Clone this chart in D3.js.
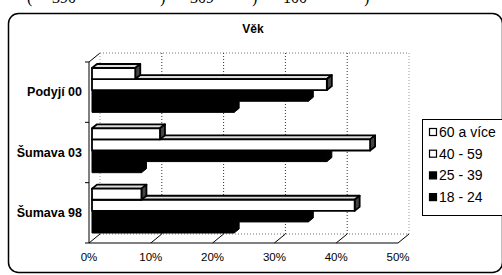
<!DOCTYPE html>
<html lang="cs">
<head>
<meta charset="UTF-8">
<title>Věk</title>
<script src="https://d3js.org/d3.v7.min.js"></script>
<style>
  body { margin: 0; background: #fff; }
  svg { display: block; font-family: "Liberation Sans", Arial, sans-serif; }
</style>
</head>
<body>
<svg id="chart" width="502" height="275"></svg>
<script>
// data
var categories = ["Podyjí 00", "Šumava 03", "Šumava 98"];
var series = ["60 a více", "40 - 59", "25 - 39", "18 - 24"];
var seriesFill = ["#fff", "#fff", "#000", "#000"];
var values = {
  "60 a více": [7, 11, 8],
  "40 - 59":   [38, 45, 42.5],
  "25 - 39":   [35, 38, 35],
  "18 - 24":   [23, 8, 23]
};
var ticks = [0, 10, 20, 30, 40, 50];
var headerBits = [["(", 27], ["390", 52], [")", 160], ["309", 190], [")", 252], ["100", 283], [")", 364]];

var svg = d3.select("#chart");

// clipped text line from the page above the chart
svg.append("g").selectAll("text")
  .data(headerBits).enter().append("text")
  .attr("x", d => d[1]).attr("y", 3)
  .style("font-family", "'Liberation Serif', serif")
  .style("font-size", "16px")
  .text(d => d[0]);

// chart frame
svg.append("rect")
  .attr("x", 8.5).attr("y", 13.5).attr("width", 494).attr("height", 259)
  .attr("rx", 10).attr("fill", "none").attr("stroke", "#000").attr("stroke-width", 1.5);

svg.append("text")
  .attr("x", 253).attr("y", 33)
  .attr("text-anchor", "middle")
  .style("font-weight", "bold").style("font-size", "12px")
  .text("Věk");

var x = d3.scaleLinear().domain([0, 50]).range([89, 398]);
var y = d3.scaleBand().domain(categories).range([62, 243]);
var inner = d3.scaleBand().domain(series).range([0, y.bandwidth()]).paddingOuter(0.72);

var DX = 11, DY = -9;     // depth of the back wall
var bdx = 5, bdy = -4;    // depth of each bar
var offX = 3, offY = -2;  // bars sit a bit behind the front plane

var yTop = y.range()[0], yBot = y.range()[1];

// back wall and gridlines
var wall = svg.append("g").attr("stroke", "#777").attr("stroke-dasharray", "1,2").attr("fill", "none");
wall.append("line")
  .attr("x1", x(0) + DX).attr("x2", x(50) + DX)
  .attr("y1", yTop + DY).attr("y2", yTop + DY);
wall.append("line")
  .attr("x1", x(0) + DX).attr("x2", x(50) + DX)
  .attr("y1", yBot + DY).attr("y2", yBot + DY);
wall.selectAll("line.grid")
  .data(ticks.slice(1)).enter().append("line")
  .attr("class", "grid")
  .attr("x1", d => x(d) + DX).attr("x2", d => x(d) + DX)
  .attr("y1", yTop + DY).attr("y2", yBot + DY)
  .attr("stroke", d => d === 50 ? "#999" : "#333");

// floor ticks (diagonals) and axis lines
var axisG = svg.append("g").attr("stroke", "#000").attr("stroke-width", 1);
axisG.selectAll("line.diag")
  .data(ticks).enter().append("line")
  .attr("class", "diag")
  .attr("x1", d => x(d)).attr("y1", yBot)
  .attr("x2", d => x(d) + DX).attr("y2", yBot + DY);
axisG.append("line")
  .attr("x1", x(0)).attr("x2", x(0) + DX)
  .attr("y1", yTop).attr("y2", yTop + DY);
axisG.append("line")
  .attr("x1", x(0) + DX).attr("x2", x(0) + DX)
  .attr("y1", yTop + DY).attr("y2", yBot + DY)
  .attr("stroke", "#999").attr("stroke-dasharray", "1,2");

// bars, drawn from the lowest series up so upper bars hide lower top faces
var bars = svg.append("g");
categories.forEach(function(cat, ci) {
  series.slice().reverse().forEach(function(s) {
    var si = series.indexOf(s);
    var v = values[s][ci];
    var x0 = x(0) + offX, x1 = x(v) + offX;
    var y0 = y(cat) + inner(s) + offY, h = inner.bandwidth();
    var dark = seriesFill[si] === "#000";
    var g = bars.append("g")
      .attr("stroke", "#000").attr("stroke-width", dark ? 1 : 1.8)
      .attr("stroke-linejoin", "round");
    // top face
    g.append("path")
      .attr("d", `M${x0},${y0}L${x0 + bdx},${y0 + bdy}L${x1 + bdx},${y0 + bdy}L${x1},${y0}Z`)
      .attr("fill", dark ? "#000" : "#ddd");
    // right face
    g.append("path")
      .attr("d", `M${x1},${y0}L${x1 + bdx},${y0 + bdy}L${x1 + bdx},${y0 + h + bdy}L${x1},${y0 + h}Z`)
      .attr("fill", dark ? "#000" : "#444");
    // front face
    g.append("rect")
      .attr("x", x0).attr("y", y0)
      .attr("width", x1 - x0).attr("height", h)
      .attr("fill", seriesFill[si]);
  });
});

// front axes
axisG.append("line")
  .attr("x1", x(0)).attr("x2", x(0))
  .attr("y1", yTop).attr("y2", yBot);
axisG.append("line")
  .attr("x1", x(0)).attr("x2", x(50))
  .attr("y1", yBot).attr("y2", yBot);
axisG.selectAll("line.ctick")
  .data(y.domain().map(d => y(d)).concat([yBot])).enter().append("line")
  .attr("class", "ctick")
  .attr("x1", x(0) - 4).attr("x2", x(0))
  .attr("y1", d => d).attr("y2", d => d);

// tick labels
svg.append("g").selectAll("text")
  .data(ticks).enter().append("text")
  .attr("x", d => x(d)).attr("y", yBot + 18)
  .attr("text-anchor", "middle")
  .style("font-size", "11.5px")
  .text(d => d + "%");

svg.append("g").selectAll("text")
  .data(categories).enter().append("text")
  .attr("x", 82).attr("y", d => y(d) + y.bandwidth() / 2 + 4)
  .attr("text-anchor", "end")
  .style("font-weight", "bold").style("font-size", "12.5px")
  .text(d => d);

// legend
var legend = svg.append("g");
legend.append("rect")
  .attr("x", 422.5).attr("y", 119.5).attr("width", 90).attr("height", 96)
  .attr("fill", "#fff").attr("stroke", "#000");
var items = legend.selectAll("g.item")
  .data(series).enter().append("g")
  .attr("class", "item")
  .attr("transform", (d, i) => `translate(429,${132 + i * 21.7})`);
items.append("rect")
  .attr("x", 0.5).attr("y", -3.5).attr("width", 7).attr("height", 7)
  .attr("fill", (d, i) => seriesFill[i]).attr("stroke", "#000").attr("stroke-width", 1.2);
items.append("text")
  .attr("x", 10).attr("y", 5)
  .style("font-size", "14px")
  .text(d => d);
</script>
</body>
</html>
